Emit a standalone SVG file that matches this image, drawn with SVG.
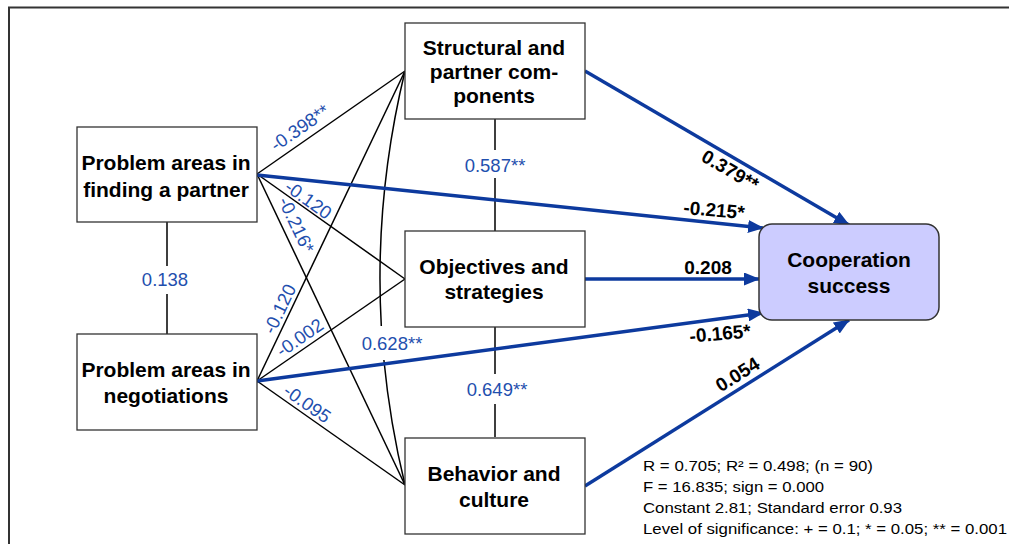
<svg xmlns="http://www.w3.org/2000/svg" width="1009" height="544" viewBox="0 0 1009 544">
<style>
.node{fill:#fff;stroke:#333;stroke-width:1.3}
.goal{fill:#ccccff;stroke:#333;stroke-width:1.5}
.nt{font-family:"Liberation Sans",Arial,sans-serif;font-weight:bold;font-size:21px;fill:#000;text-anchor:middle}
.cor{stroke:#000;stroke-width:1.5;fill:none}
.reg{stroke:#0d3a9e;stroke-width:3.4;fill:none;marker-end:url(#ah)}
.bl{font-family:"Liberation Sans",Arial,sans-serif;font-size:18.5px;fill:#1f4fae;text-anchor:middle}
.bk{font-family:"Liberation Sans",Arial,sans-serif;font-size:19px;font-weight:bold;fill:#000;text-anchor:middle}
.st{font-family:"Liberation Sans",Arial,sans-serif;font-size:15px;fill:#000}
</style>
<defs>
<marker id="ah" markerUnits="userSpaceOnUse" markerWidth="17" markerHeight="13" refX="15" refY="6.5" orient="auto">
<path d="M0,0 L16,6.5 L0,13 Z" fill="#0d3a9e"/>
</marker>
</defs>
<rect x="0" y="0" width="1009" height="544" fill="#fff"/>
<path d="M8,7.5 H1009 M9,7 V544" stroke="#333" stroke-width="2" fill="none"/>

<g id="connectors">
<line class="cor" x1="257" y1="174" x2="405" y2="71"/>
<line class="cor" x1="257" y1="174" x2="405" y2="279"/>
<line class="cor" x1="257" y1="174" x2="405" y2="485"/>
<line class="cor" x1="257" y1="381" x2="405" y2="71"/>
<line class="cor" x1="257" y1="381" x2="405" y2="279"/>
<line class="cor" x1="257" y1="381" x2="405" y2="485"/>
<path class="cor" d="M405,71 Q374.2,198.5 381.3,326"/>
<path class="cor" d="M383.9,360 Q389.9,422.5 405,485"/>
<path class="cor" d="M167,222 V266 M167,294 V334"/>
<path class="cor" d="M495,119 V150 M495,178 V231"/>
<path class="cor" d="M495,327 V374 M495,404 V437"/>
<line class="reg" x1="585" y1="71" x2="849" y2="225"/>
<line class="reg" x1="257" y1="175" x2="763" y2="228"/>
<line class="reg" x1="585" y1="279" x2="759" y2="279"/>
<line class="reg" x1="257" y1="381" x2="763" y2="313"/>
<line class="reg" x1="585" y1="486" x2="849" y2="320"/>
<text class="bl" transform="translate(303.4,132.9) rotate(-34.8)">-0.398**</text>
<text class="bl" transform="translate(304.6,204.9) rotate(35.4)">-0.120</text>
<text class="bl" transform="translate(290.6,227.6) rotate(64.6)">-0.216*</text>
<text class="bl" x="165" y="286">0.138</text>
<text class="bl" transform="translate(285.4,311.6) rotate(-64.5)">-0.120</text>
<text class="bl" transform="translate(303.4,342.9) rotate(-34.6)">-0.002</text>
<text class="bl" transform="translate(303.6,408.9) rotate(35)">-0.095</text>
<text class="bl" x="392" y="350">0.628**</text>
<text class="bl" x="495" y="172">0.587**</text>
<text class="bl" x="497" y="396">0.649**</text>
<text class="bk" transform="translate(727,176) rotate(30.2)">0.379**</text>
<text class="bk" transform="translate(713.5,216.5) rotate(5)">-0.215*</text>
<text class="bk" x="708" y="274">0.208</text>
<text class="bk" transform="translate(720.6,340) rotate(-5)">-0.165*</text>
<text class="bk" transform="translate(741,380) rotate(-32)">0.054</text>
</g>

<g id="finding">
<rect class="node" x="77" y="127" width="180" height="95"/>
<text class="nt" x="166" y="170">Problem areas in</text>
<text class="nt" x="166" y="197">finding a partner</text>
</g>
<g id="negotiations">
<rect class="node" x="77" y="334" width="180" height="96"/>
<text class="nt" x="166" y="377">Problem areas in</text>
<text class="nt" x="166" y="403">negotiations</text>
</g>
<g id="structural">
<rect class="node" x="405" y="23" width="180" height="96"/>
<text class="nt" x="494" y="55">Structural and</text>
<text class="nt" x="494" y="79">partner com-</text>
<text class="nt" x="494" y="103">ponents</text>
</g>
<g id="objectives">
<rect class="node" x="405" y="231" width="180" height="96"/>
<text class="nt" x="494" y="274">Objectives and</text>
<text class="nt" x="494" y="299">strategies</text>
</g>
<g id="behavior">
<rect class="node" x="405" y="438" width="180" height="96"/>
<text class="nt" x="494" y="481">Behavior and</text>
<text class="nt" x="494" y="507">culture</text>
</g>
<g id="cooperation">
<rect class="goal" x="759" y="224" width="180" height="96" rx="13"/>
<text class="nt" x="849" y="267">Cooperation</text>
<text class="nt" x="849" y="293">success</text>
</g>
<g id="stats">
<text class="st" x="643" y="471" textLength="230" lengthAdjust="spacingAndGlyphs">R = 0.705; R² = 0.498; (n = 90)</text>
<text class="st" x="643" y="492" textLength="181" lengthAdjust="spacingAndGlyphs">F = 16.835; sign = 0.000</text>
<text class="st" x="643" y="513" textLength="259" lengthAdjust="spacingAndGlyphs">Constant 2.81; Standard error 0.93</text>
<text class="st" x="643" y="534" textLength="364" lengthAdjust="spacingAndGlyphs">Level of significance: + = 0.1; * = 0.05; ** = 0.001</text>
</g>
</svg>
